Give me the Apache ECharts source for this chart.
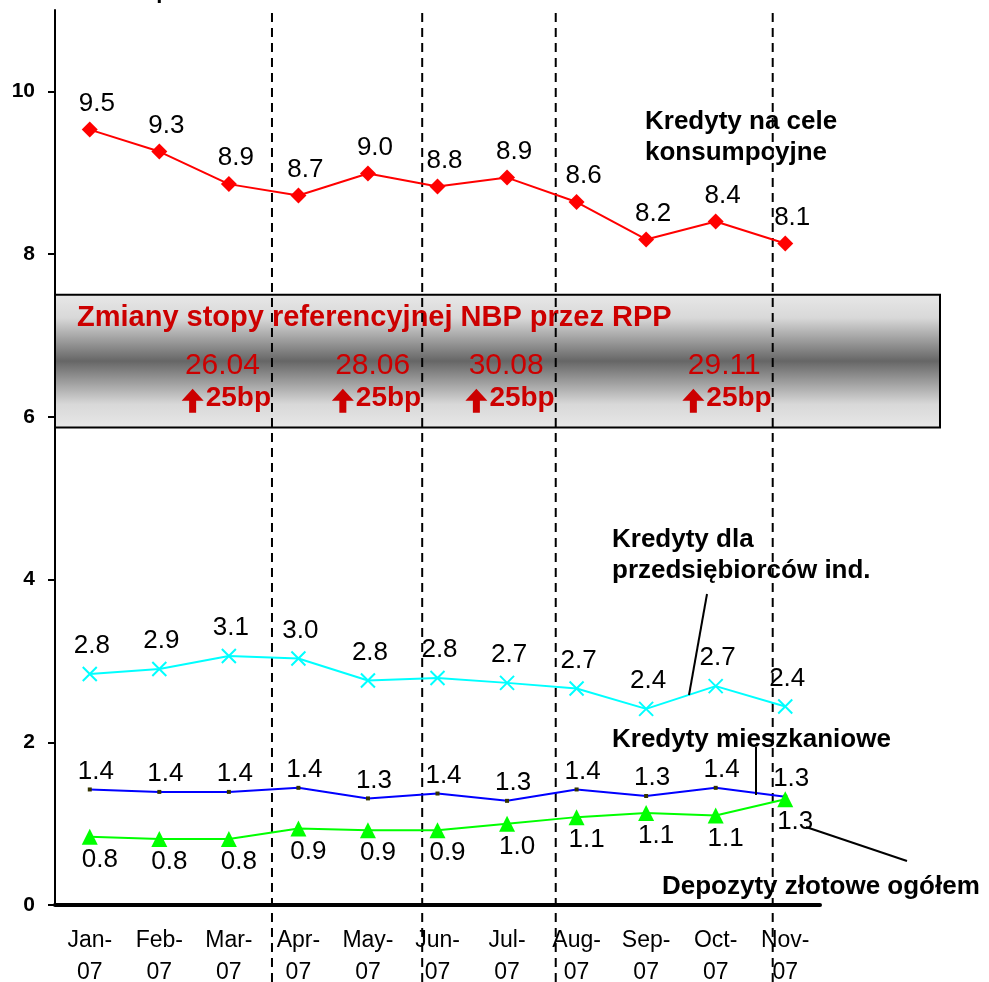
<!DOCTYPE html>
<html>
<head>
<meta charset="utf-8">
<title>Marże kredytowe i depozytowe 2007</title>
<script src="https://cdn.jsdelivr.net/npm/echarts@6/dist/echarts.min.js"></script>
<style>
  html, body { margin: 0; padding: 0; background: #fff; }
  #chart { width: 989px; height: 982px; }
</style>
</head>
<body>
<div id="chart"></div>
<script>
// dane
const months = ['Jan-\n07', 'Feb-\n07', 'Mar-\n07', 'Apr-\n07', 'May-\n07', 'Jun-\n07', 'Jul-\n07', 'Aug-\n07', 'Sep-\n07', 'Oct-\n07', 'Nov-\n07']
const konsumpcyjne = [9.53, 9.26, 8.86, 8.72, 8.99, 8.83, 8.94, 8.64, 8.18, 8.40, 8.13]
const przedsiebiorcy = [2.84, 2.90, 3.06, 3.03, 2.76, 2.79, 2.73, 2.66, 2.41, 2.69, 2.44]
const mieszkaniowe = [1.42, 1.39, 1.39, 1.44, 1.31, 1.37, 1.28, 1.42, 1.34, 1.44, 1.33]
const depozyty = [0.84, 0.81, 0.81, 0.94, 0.92, 0.92, 1.00, 1.08, 1.13, 1.10, 1.30]
const yTicks = [0, 2, 4, 6, 8, 10]
// decyzje RPP: data i miejsce na osi (w jednostkach miesięcy)
const rateDates = ['26.04', '28.06', '30.08', '29.11']
const ratePos = [2.62, 4.78, 6.70, 9.82]
const rateStep = '25bp'
const bandRange = [5.87, 7.5]

const FONT = '"Liberation Sans", Arial, sans-serif'
const chart = echarts.init(document.getElementById('chart'))

function lineSeries(name, data, color, symbol, size, label) {
  return {
    name: name,
    type: 'line',
    data: data,
    symbol: symbol,
    symbolSize: size,
    lineStyle: { color: color, width: 2 },
    itemStyle: label.item,
    label: {
      show: true,
      position: label.pos,
      distance: label.dist,
      offset: label.off,
      color: '#000',
      fontFamily: FONT,
      fontSize: 26,
      formatter: p => p.value.toFixed(1)
    },
    animation: false,
    z: 4
  }
}

chart.setOption({
  animation: false,
  grid: [
    { left: 55, right: 169, top: 10, bottom: 77, outerBoundsMode: 'none', containLabel: false },
    { left: 55, right: 169, top: 12, bottom: 0, outerBoundsMode: 'none', containLabel: false }
  ],
  xAxis: [
    {
      type: 'category',
      data: months,
      gridIndex: 0,
      boundaryGap: true,
      axisLine: { lineStyle: { color: '#000', width: 4 } },
      axisTick: { show: false },
      axisLabel: { color: '#000', fontFamily: FONT, fontSize: 23, lineHeight: 32, margin: 20 }
    },
    { type: 'value', gridIndex: 1, min: -0.5, max: 10.5, show: false }
  ],
  yAxis: [
    {
      type: 'value',
      gridIndex: 0,
      min: 0,
      max: 11,
      splitLine: { show: false },
      axisLine: { show: true, lineStyle: { color: '#000', width: 2 } },
      axisTick: { show: true, length: 7, lineStyle: { color: '#000', width: 2 }, customValues: yTicks },
      axisLabel: { color: '#000', fontFamily: FONT, fontSize: 21, fontWeight: 'bold', margin: 20, customValues: yTicks }
    },
    { type: 'value', gridIndex: 1, min: 0, max: 1, show: false }
  ],
  series: [
    lineSeries('Kredyty na cele konsumpcyjne', konsumpcyjne, '#ff0000', 'diamond', 16,
      { pos: 'top', dist: 5, off: [7, 0], item: { color: '#ff0000' } }),
    lineSeries('Kredyty dla przedsiębiorców ind.', przedsiebiorcy, '#00ffff', 'path://M0,0L10,10M10,0L0,10', 14,
      { pos: 'top', dist: 7, off: [2, 0], item: { color: '#00ffff', borderColor: '#00ffff', borderWidth: 2 } }),
    lineSeries('Kredyty mieszkaniowe', mieszkaniowe, '#0000ff', 'rect', 4,
      { pos: 'top', dist: 3, off: [6, 0], item: { color: '#333300' } }),
    lineSeries('Depozyty złotowe ogółem', depozyty, '#00ff00', 'triangle', 16,
      { pos: 'bottom', dist: 2, off: [10, 0], item: { color: '#00ff00' } })
  ].concat(ratePos.map(p => ({
    type: 'line',
    xAxisIndex: 1,
    yAxisIndex: 1,
    data: [[p, 0], [p, 1]],
    symbol: 'none',
    silent: true,
    z: 3,
    lineStyle: { color: '#000', width: 2, type: [9, 6] }
  })))
})

// pas z decyzjami RPP i opisy serii
const bandTop = chart.convertToPixel({ yAxisIndex: 0 }, bandRange[1])
const bandBottom = chart.convertToPixel({ yAxisIndex: 0 }, bandRange[0])
const lineX = ratePos.map(p => chart.convertToPixel({ xAxisIndex: 1 }, p))

const red = '#cc0000'
const stepFont = 'bold 28px ' + FONT
const measure = document.createElement('canvas').getContext('2d')
measure.font = stepFont
const stepWidth = measure.measureText(rateStep).width

const graphics = [
  {
    type: 'text', x: 50, y: -8, z: 5,
    style: { text: 'Zmiana w procentach', fill: '#000', font: 'bold 22px ' + FONT, verticalAlign: 'middle' }
  },
  {
    type: 'rect', z: 0,
    shape: { x: 55, y: bandTop, width: 885, height: bandBottom - bandTop },
    style: {
      fill: {
        type: 'linear', x: 0, y: 0, x2: 0, y2: 1,
        colorStops: [
          { offset: 0, color: '#e8e8e8' },
          { offset: 0.18, color: '#d8d8d8' },
          { offset: 0.5, color: '#666666' },
          { offset: 0.82, color: '#d8d8d8' },
          { offset: 1, color: '#e8e8e8' }
        ]
      },
      stroke: '#000',
      lineWidth: 2
    }
  },
  {
    type: 'text', x: 77, y: bandTop + 23, z: 1,
    style: { text: 'Zmiany stopy referencyjnej NBP przez RPP', fill: red, font: 'bold 29px ' + FONT, verticalAlign: 'middle' }
  }
]
rateDates.forEach((d, i) => {
  const right = lineX[i] - 1
  const cy = bandTop + 104
  graphics.push({
    type: 'text', x: lineX[i] - 12, y: bandTop + 71, z: 1,
    style: { text: d, fill: red, font: '30px ' + FONT, align: 'right', verticalAlign: 'middle' }
  })
  graphics.push({
    type: 'text', x: right, y: cy, z: 1,
    style: { text: rateStep, fill: red, font: stepFont, align: 'right', verticalAlign: 'middle' }
  })
  // strzałka w górę
  const ax = right - stepWidth - 13
  const top = cy - 10
  graphics.push({
    type: 'polygon', z: 1,
    shape: {
      points: [[ax, top], [ax + 11, top + 12], [ax + 3.5, top + 12], [ax + 3.5, top + 24],
        [ax - 3.5, top + 24], [ax - 3.5, top + 12], [ax - 11, top + 12]]
    },
    style: { fill: red }
  })
})

const notes = [
  { text: 'Kredyty na cele\nkonsumpcyjne', x: 645, y: 137 },
  { text: 'Kredyty dla\nprzedsiębiorców ind.', x: 612, y: 555 },
  { text: 'Kredyty mieszkaniowe', x: 612, y: 740 },
  { text: 'Depozyty złotowe ogółem', x: 662, y: 887 }
]
notes.forEach(n => {
  graphics.push({
    type: 'text', x: n.x, y: n.y, z: 5,
    style: { text: n.text, fill: '#000', font: 'bold 26px ' + FONT, lineHeight: 31, verticalAlign: 'middle' }
  })
})

const leaders = [
  [707, 594, 689, 695],
  [756, 747, 756, 795],
  [806, 827, 907, 861]
]
leaders.forEach(l => {
  graphics.push({
    type: 'line', z: 5,
    shape: { x1: l[0], y1: l[1], x2: l[2], y2: l[3] },
    style: { stroke: '#000', lineWidth: 2 }
  })
})

chart.setOption({ graphic: graphics })
</script>
</body>
</html>
